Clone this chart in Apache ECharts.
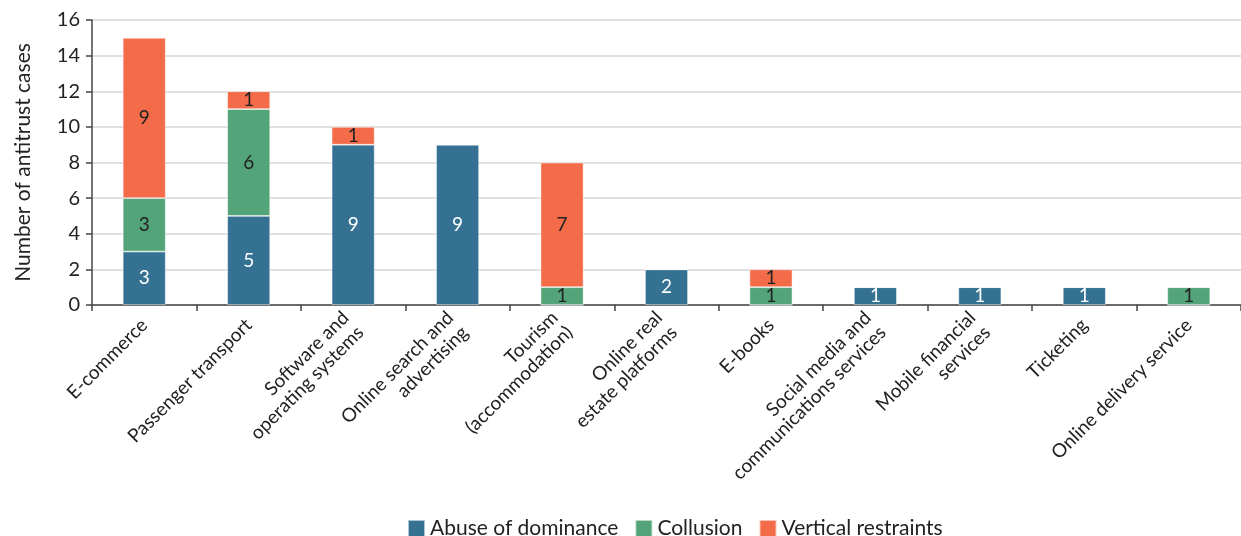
<!DOCTYPE html>
<html>
<head>
<meta charset="utf-8">
<script src="https://cdn.jsdelivr.net/npm/echarts@6/dist/echarts.min.js"></script>
<style>html,body{margin:0;padding:0;background:#fff}#c{width:1241px;height:536px}</style>
</head>
<body>
<div id="c"></div>
<script>
const categories = ["E-commerce","Passenger transport","Software and\noperating systems","Online search and\nadvertising","Tourism\n(accommodation)","Online real\nestate platforms","E-books","Social media and\ncommunications services","Mobile financial\nservices","Ticketing","Online delivery service"];
const abuse = [3,5,9,9,0,2,0,1,1,1,0];
const collusion = [3,6,0,0,1,0,1,0,0,0,1];
const vertical = [9,1,1,0,7,0,1,0,0,0,0];
const yTicks = [0,2,4,6,8,10,12,14,16];

const FONT = "Lato, 'Noto Sans', sans-serif";
const chart = echarts.init(document.getElementById('c'), null, {renderer:'canvas'});
function mk(name, data, color, labelColor){
  return {
    name, type:'bar', stack:'s', data, barWidth:43,
    itemStyle:{color, borderColor:'rgba(255,255,255,0.6)', borderWidth:0.8},
    label:{show:true, position:'inside', color:labelColor, fontFamily:FONT, fontSize:19,
      formatter:p=>p.value?String(p.value):''},
    emphasis:{disabled:true}
  };
}
chart.setOption({
  animation:false,
  textStyle:{fontFamily:FONT},
  grid:{left:92, right:-10, top:20, bottom:231, containLabel:false},
  legend:{bottom:-8, left:402, itemWidth:17, itemHeight:17, itemGap:16, icon:'rect',
    textStyle:{fontFamily:FONT, fontSize:21, color:'#222'}},
  xAxis:{type:'category', data:categories,
    axisLine:{lineStyle:{color:'#444', width:1.5}},
    axisTick:{show:true, length:6, lineStyle:{color:'#444', width:1.5}},
    axisLabel:{rotate:45, interval:0, fontFamily:FONT, fontSize:19, color:'#222', lineHeight:21, margin:17}},
  yAxis:{type:'value', min:yTicks[0], max:yTicks[yTicks.length-1], interval:2,
    name:'Number of antitrust cases', nameLocation:'middle', nameGap:58, nameRotate:90,
    nameTextStyle:{fontFamily:FONT, fontSize:21, color:'#222'},
    axisLine:{show:true, lineStyle:{color:'#444', width:1.5}},
    axisTick:{show:true, length:6, lineStyle:{color:'#444', width:1.5}},
    axisLabel:{fontFamily:FONT, fontSize:20, color:'#222', margin:12},
    splitLine:{lineStyle:{color:'#d6d6d6', width:1.5}}},
  series:[
    mk('Abuse of dominance', abuse, '#347192', '#ffffff'),
    mk('Collusion', collusion, '#53a479', '#222222'),
    mk('Vertical restraints', vertical, '#f36b48', '#222222')
  ]
});
</script>
</body>
</html>
